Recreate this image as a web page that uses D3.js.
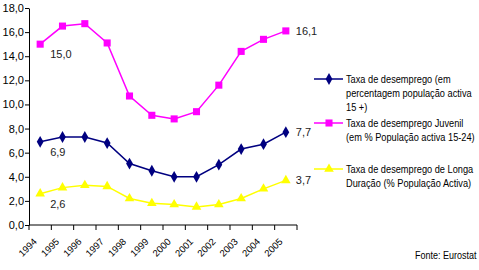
<!DOCTYPE html>
<meta charset="utf-8" />
<title>Taxa de desemprego</title>
<style>
  body { margin: 0; background: #fff; }
  svg text { font-family: "Liberation Sans", Arial, Helvetica, sans-serif; }
  .axis path, .axis line { stroke: #000; }
  .axis text { font-size: 11px; fill: #000; }
  .lbl { font-size: 11px; fill: #222; }
  .leg { font-size: 11px; fill: #000; }
</style>
<body>
<svg width="479" height="270"></svg>
<script src="https://d3js.org/d3.v7.min.js"></script>
<script>
  const years = ["1994","1995","1996","1997","1998","1999","2000","2001","2002","2003","2004","2005"];
  const total = [6.9, 7.3, 7.3, 6.8, 5.1, 4.5, 4.0, 4.0, 5.0, 6.3, 6.7, 7.7];
  const youth = [15.0, 16.5, 16.7, 15.1, 10.7, 9.1, 8.8, 9.4, 11.6, 14.4, 15.4, 16.1];
  const longTerm = [2.6, 3.1, 3.3, 3.2, 2.2, 1.8, 1.7, 1.5, 1.7, 2.2, 3.0, 3.7];
  const yTicks = [0, 2, 4, 6, 8, 10, 12, 14, 16, 18];

  const series = [
    { name: ["Taxa de desemprego (em", "percentagem população activa", "15 +)"], values: total, color: "#000080", marker: d3.symbolDiamond, size: 40 },
    { name: ["Taxa de desemprego Juvenil", "(em % População activa 15-24)"], values: youth, color: "#ff00ff", marker: d3.symbolSquare, size: 50 },
    { name: ["Taxa de desemprego de Longa", "Duração (% População Activa)"], values: longTerm, color: "#ffff00", marker: d3.symbolTriangle, size: 40 }
  ];

  const svg = d3.select("svg");
  const fmt = v => d3.format(".1f")(v).replace(".", ",");

  const x = d3.scaleBand().domain(years).range([29, 297]);
  const y = d3.scaleLinear().domain([0, 18]).range([225, 8]);
  const cx = d => x(d) + x.bandwidth() / 2;

  // y axis
  svg.append("g").attr("class", "axis")
    .attr("transform", "translate(29,0)")
    .call(d3.axisLeft(y).tickValues(yTicks).tickSize(4).tickSizeOuter(0).tickFormat(fmt))
    .call(g => g.selectAll("text").attr("x", -5))
    .attr("font-family", null).attr("font-size", null);

  // x axis, ticks on category boundaries
  const xg = svg.append("g").attr("class", "axis").attr("transform", "translate(0,225)");
  xg.append("line").attr("x1", 29).attr("x2", 297).attr("stroke", "#000");
  xg.selectAll(".tk").data(d3.range(years.length + 1)).join("line")
    .attr("x1", i => 29 + i * x.step()).attr("x2", i => 29 + i * x.step())
    .attr("y1", 0).attr("y2", 5).attr("stroke", "#000");
  xg.selectAll("text").data(years).join("text")
    .attr("transform", d => `translate(${cx(d) - 5},${15}) rotate(-45)`)
    .attr("text-anchor", "end")
    .attr("dy", "0.35em")
    .style("font-size", "9.5px")
    .text(d => d);

  const line = d3.line().x((v, i) => cx(years[i])).y(v => y(v));

  series.forEach(s => {
    svg.append("path").datum(s.values)
      .attr("fill", "none").attr("stroke", s.color).attr("stroke-width", 1.5)
      .attr("d", line);
    svg.append("g").selectAll("path").data(s.values).join("path")
      .attr("transform", (v, i) => `translate(${cx(years[i])},${y(v)})`)
      .attr("d", d3.symbol().type(s.marker).size(s.size))
      .attr("fill", s.color);
    const n = s.values.length - 1;
    svg.append("text").attr("class", "lbl")
      .attr("x", cx(years[0]) + 10).attr("y", y(s.values[0]) + 14)
      .text(fmt(s.values[0]));
    svg.append("text").attr("class", "lbl")
      .attr("x", cx(years[n]) + 10).attr("y", y(s.values[n]) + 4)
      .text(fmt(s.values[n]));
  });

  // legend (text slightly condensed, like the source)
  const legY = [79, 123, 169];
  series.forEach((s, i) => {
    const g = svg.append("g").attr("transform", `translate(0,${legY[i]})`);
    g.append("line").attr("x1", 314).attr("x2", 343).attr("stroke", s.color).attr("stroke-width", 1.5);
    g.append("path").attr("transform", "translate(329,0)")
      .attr("d", d3.symbol().type(s.marker).size(s.size)).attr("fill", s.color);
    g.append("text").attr("class", "leg")
      .attr("transform", "translate(346,4) scale(0.84,1)")
      .selectAll("tspan").data(s.name).join("tspan")
      .attr("x", 0).attr("dy", (d, j) => j ? 14 : 0).text(d => d);
  });

  svg.append("text").attr("class", "leg")
    .attr("transform", "translate(415,259) scale(0.82,1)")
    .text("Fonte: Eurostat");
</script>
</body>
